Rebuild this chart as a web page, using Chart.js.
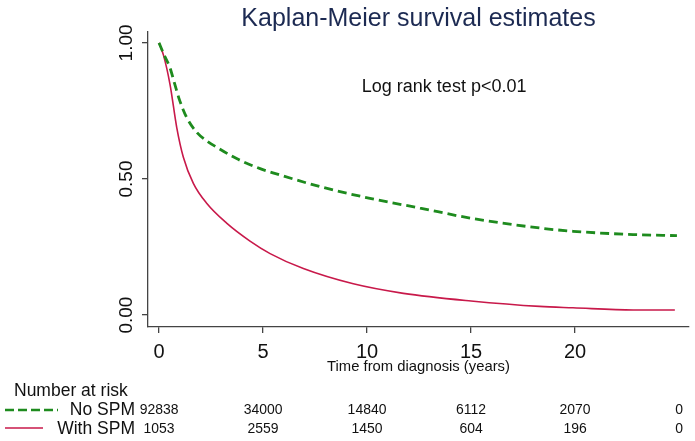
<!DOCTYPE html>
<html>
<head>
<meta charset="utf-8">
<script src="https://cdn.jsdelivr.net/npm/chart.js@4.4.1/dist/chart.umd.min.js"></script>
<style>
    html, body { margin: 0; padding: 0; background: #ffffff; }
    #wrap { width: 695px; height: 441px; position: relative; }
</style>
</head>
<body>
<div id="wrap"><canvas id="kmChart"></canvas></div>
<script>
// Kaplan-Meier curves
const noSpmTime = [0, 0.25, 0.53, 0.75, 1.0, 1.33, 1.81, 2.3, 2.77, 3.73, 4.86, 5.73, 7.74, 10.14, 12.55, 15.0, 18.3, 19.9, 22.8, 24.9];
const noSpmSurv = [1.0, 0.955, 0.908, 0.85, 0.787, 0.726, 0.672, 0.64, 0.617, 0.575, 0.538, 0.517, 0.472, 0.429, 0.393, 0.356, 0.32, 0.308, 0.296, 0.292];

const withSpmTime = [0, 0.21, 0.53, 0.85, 1.17, 1.65, 2.29, 3.25, 4.375, 5.34, 6.94, 9.34, 11.75, 15.0, 18.3, 19.9, 22.8, 24.8];
const withSpmSurv = [1.0, 0.956, 0.847, 0.69, 0.58, 0.484, 0.411, 0.338, 0.272, 0.226, 0.171, 0.115, 0.08, 0.052, 0.032, 0.027, 0.019, 0.019];

// axis ticks
const xTicks = [0, 5, 10, 15, 20];
const yTicks = [0, 0.5, 1];

// number at risk table
const riskTimes = [0, 5, 10, 15, 20, 25];
const noSpmRisk = [92838, 34000, 14840, 6112, 2070, 0];
const withSpmRisk = [1053, 2559, 1450, 604, 196, 0];

const groupNames = ['No SPM', 'With SPM'];

const colors = {
    green: '#1e8b1e',
    red: '#c8194a',
    axis: '#444444',
    text: '#111111',
    title: '#1c2a52'
};
const fontFamily = "'Liberation Sans', Arial, sans-serif";

Chart.defaults.font.family = fontFamily;

function toPoints(xs, ys) {
    return xs.map((x, i) => ({ x: x, y: ys[i] }));
}

// text drawn with a slight horizontal squeeze, like the original export
function squeezedText(ctx, text, x, y, align, sx) {
    ctx.save();
    ctx.translate(x, y);
    ctx.scale(sx, 1);
    ctx.textAlign = align;
    ctx.fillText(text, 0, 0);
    ctx.restore();
}

const annotations = {
    id: 'annotations',
    afterDraw(chart) {
        const { ctx, chartArea, scales } = chart;
        const xs = scales.x;
        const ys = scales.y;
        ctx.save();
        ctx.fillStyle = colors.title;
        ctx.textBaseline = 'alphabetic';
        ctx.font = '25px ' + fontFamily;
        ctx.textAlign = 'center';
        ctx.fillText('Kaplan-Meier survival estimates', (chartArea.left + chartArea.right) / 2, 26);

        // y tick labels, turned to read upwards
        ctx.fillStyle = colors.text;
        ctx.font = '19px ' + fontFamily;
        ctx.textBaseline = 'middle';
        yTicks.forEach((v) => {
            ctx.save();
            ctx.translate(chartArea.left - 21.5, ys.getPixelForValue(v));
            ctx.rotate(-Math.PI / 2);
            ctx.textAlign = 'center';
            ctx.fillText(v.toFixed(2), 0, 0);
            ctx.restore();
        });

        ctx.textBaseline = 'alphabetic';
        ctx.font = '18px ' + fontFamily;
        ctx.textAlign = 'left';
        ctx.fillText('Log rank test p<0.01', xs.getPixelForValue(9.75), ys.getPixelForValue(0.818));

        // number at risk
        ctx.textBaseline = 'middle';
        ctx.font = '17.5px ' + fontFamily;
        ctx.fillText('Number at risk', 14, 391);
        const rowY = [410, 429];
        ctx.textAlign = 'right';
        groupNames.forEach((name, i) => ctx.fillText(name, 135, rowY[i]));

        ctx.lineWidth = 2.6;
        ctx.strokeStyle = colors.green;
        ctx.setLineDash([9, 4]);
        ctx.beginPath();
        ctx.moveTo(5, rowY[0]);
        ctx.lineTo(58, rowY[0]);
        ctx.stroke();
        ctx.setLineDash([]);
        ctx.lineWidth = 1.6;
        ctx.strokeStyle = colors.red;
        ctx.beginPath();
        ctx.moveTo(5, rowY[1] - 1);
        ctx.lineTo(43, rowY[1] - 1);
        ctx.stroke();

        ctx.font = '15.5px ' + fontFamily;
        riskTimes.forEach((t, i) => {
            const px = xs.getPixelForValue(t);
            squeezedText(ctx, String(noSpmRisk[i]), px, rowY[0], 'center', 0.9);
            squeezedText(ctx, String(withSpmRisk[i]), px, rowY[1], 'center', 0.9);
        });
        ctx.restore();
    }
};

const canvas = document.getElementById('kmChart');
new Chart(canvas, {
    type: 'line',
    data: {
        datasets: [{
            label: groupNames[0],
            data: toPoints(noSpmTime, noSpmSurv),
            borderColor: colors.green,
            borderWidth: 2.8,
            borderDash: [9, 5],
            pointRadius: 0,
            cubicInterpolationMode: 'monotone',
            fill: false
        }, {
            label: groupNames[1],
            data: toPoints(withSpmTime, withSpmSurv),
            borderColor: colors.red,
            borderWidth: 1.6,
            pointRadius: 0,
            cubicInterpolationMode: 'monotone',
            fill: false
        }]
    },
    options: {
        responsive: true,
        maintainAspectRatio: false,
        animation: false,
        devicePixelRatio: 1,
        layout: {
            padding: { top: 32, left: 142, right: 6, bottom: 64.6 }
        },
        plugins: {
            legend: { display: false },
            tooltip: { enabled: false },
            title: { display: false }
        },
        scales: {
            x: {
                type: 'linear',
                min: -0.53,
                max: 25.48,
                afterBuildTicks: (scale) => {
                    scale.ticks = xTicks.map(v => ({ value: v }));
                },
                grid: {
                    drawOnChartArea: false,
                    drawTicks: true,
                    tickLength: 6,
                    color: colors.axis,
                    lineWidth: 1.3
                },
                border: { color: colors.axis, width: 1.3 },
                ticks: {
                    color: colors.text,
                    font: { size: 20, lineHeight: 1 },
                    padding: 9,
                    maxRotation: 0,
                    autoSkip: false
                },
                title: {
                    display: true,
                    text: 'Time from diagnosis (years)',
                    color: colors.text,
                    font: { size: 14.8, lineHeight: 0.5 },
                    padding: { top: -7.7, bottom: 5.7 }
                }
            },
            y: {
                type: 'linear',
                min: -0.0436,
                max: 1.04,
                afterBuildTicks: (scale) => {
                    scale.ticks = yTicks.map(v => ({ value: v }));
                },
                grid: {
                    drawOnChartArea: false,
                    drawTicks: true,
                    tickLength: 6,
                    color: colors.axis,
                    lineWidth: 1.3
                },
                border: { color: colors.axis, width: 1.3 },
                ticks: { display: false }
            }
        }
    },
    plugins: [annotations]
});
</script>
</body>
</html>
